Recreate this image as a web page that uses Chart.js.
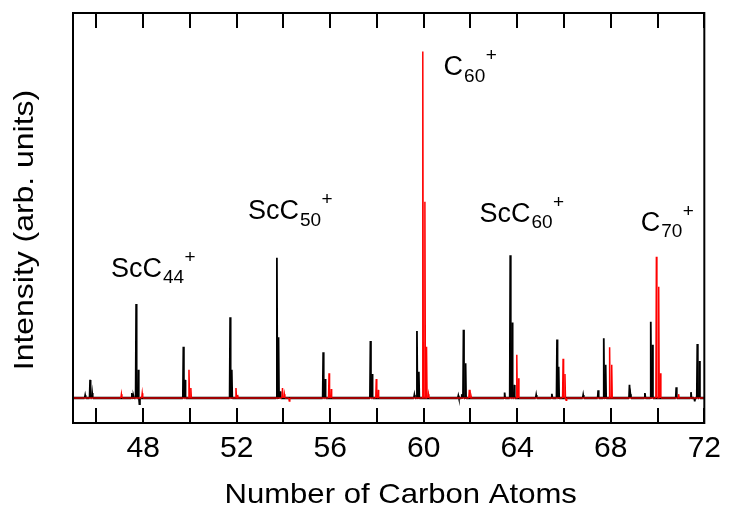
<!DOCTYPE html>
<html>
<head>
<meta charset="utf-8">
<script src="https://cdn.jsdelivr.net/npm/chart.js@4"></script>
<style>
  html, body { margin: 0; padding: 0; background: #fff; }
  #wrap { width: 729px; height: 506px; }
</style>
</head>
<body>
<div id="wrap"><canvas id="c" width="729" height="506"></canvas></div>
<script>
// ---- Data ----
// x: number of carbon atoms (mass / 12), y: intensity (arb. units)
const blackPeakPos = [45.52, 45.73, 45.82, 47.52, 47.59, 47.70, 47.79, 47.84, 49.72, 49.79, 51.72, 51.79,
  53.72, 53.79, 53.86, 55.70, 55.78, 57.72, 57.79, 59.60, 59.71, 59.79, 61.48, 61.63, 61.70, 61.79,
  63.46, 63.70, 63.78, 63.87, 64.81, 65.48, 65.70, 65.77, 66.82, 67.46, 67.70, 67.78, 68.80, 68.84,
  69.46, 69.71, 69.78, 70.80, 71.43, 71.59, 71.70, 71.79];
const blackPeakHeight = [0.7, 4.7, 1.3, 1.3, 0.5, 24.4, 7.3, -1.6, 13.3, 4.7, 21.0, 7.3,
  36.4, 15.8, 1.7, 11.9, 4.9, 14.8, 6.2, 0.8, 17.4, 6.8, 0.6, 1.0, 17.7, 9.0,
  1.4, 37.1, 19.6, 3.4, 0.8, 1.1, 15.2, 8.1, 0.8, 2.0, 15.5, 8.6, 3.4, 1.0,
  1.3, 19.8, 13.8, 2.8, 1.5, -0.9, 14.0, 9.6];

const redPeakPos = [47.07, 47.96, 49.96, 50.04, 51.97, 52.04, 53.96, 54.04, 54.25, 55.95, 56.04,
  57.97, 58.05, 59.96, 60.05, 60.12, 60.20, 61.95, 62.02, 63.98, 64.05, 65.96, 66.04, 66.09,
  67.95, 68.04, 69.95, 70.05, 70.12, 70.90];
const redPeakHeight = [1.0, 1.2, 7.3, 2.6, 2.6, 0.8, 2.6, 1.0, -0.8, 6.4, 2.3,
  4.9, 2.1, 90.0, 51.0, 13.3, 1.0, 2.1, 0.6, 11.2, 5.1, 10.2, 6.2, -0.6,
  13.2, 8.6, 36.7, 28.9, 6.4, 1.0];

const xTickValues = [48, 52, 56, 60, 64, 68, 72];
const xTitle = 'Number of Carbon Atoms';
const yTitle = 'Intensity (arb. units)';

// peak annotations: main formula, subscript, superscript, anchor (data coords)
const annMain = ['ScC', 'ScC', 'C', 'ScC', 'C'];
const annSub = ['44', '50', '60', '60', '70'];
const annSup = ['+', '+', '+', '+', '+'];
const annX = [46.62, 52.48, 60.85, 62.38, 69.28];
const annY = [31.5, 46.4, 83.9, 45.8, 43.5];

const X_MIN = 45, X_MAX = 72, Y_MIN = -6.5, Y_MAX = 100;
const HALF_W = 0.022; // half-width of each stick peak (instrument resolution)

function spectrum(pos, h) {
  const pts = [{x: X_MIN, y: 0}];
  const order = pos.map((p, i) => i).sort((a, b) => pos[a] - pos[b]);
  order.forEach(i => {
    pts.push({x: pos[i] - HALF_W, y: 0});
    pts.push({x: pos[i], y: h[i]});
    pts.push({x: pos[i] + HALF_W, y: 0});
  });
  pts.push({x: X_MAX, y: 0});
  return pts;
}

const FONT = "'Liberation Sans', Arial, Helvetica, sans-serif";

const framePlugin = {
  id: 'frame',
  afterDatasetsDraw(chart) {
    const {ctx, chartArea: a, scales: {x}} = chart;
    ctx.save();
    ctx.strokeStyle = '#000';
    ctx.lineWidth = 2;
    ctx.strokeRect(a.left, a.top, a.right - a.left, a.bottom - a.top);
    ctx.beginPath();
    for (let v = Math.ceil(X_MIN / 2) * 2; v <= X_MAX; v += 2) {
      const px = Math.round(x.getPixelForValue(v));
      ctx.moveTo(px, a.bottom);
      ctx.lineTo(px, a.bottom - 15);
      ctx.moveTo(px, a.top);
      ctx.lineTo(px, a.top + 15);
    }
    ctx.stroke();
    ctx.restore();
  }
};

const titlePlugin = {
  id: 'titles',
  afterDraw(chart) {
    const {ctx, chartArea: a} = chart;
    ctx.save();
    ctx.fillStyle = '#000';
    ctx.textBaseline = 'alphabetic';
    ctx.textAlign = 'center';
    ctx.font = '28px ' + FONT;
    ctx.save();
    ctx.translate((a.left + a.right) / 2 + 12, 503);
    ctx.scale(1.11, 1);
    ctx.fillText(xTitle, 0, 0);
    ctx.restore();
    ctx.save();
    ctx.translate(32.5, (a.top + a.bottom) / 2 + 12);
    ctx.rotate(-Math.PI / 2);
    ctx.scale(1.14, 1);
    ctx.fillText(yTitle, 0, 0);
    ctx.restore();
    ctx.restore();
  }
};

const annPlugin = {
  id: 'ann',
  afterDatasetsDraw(chart) {
    const {ctx, scales: {x, y}} = chart;
    ctx.save();
    ctx.fillStyle = '#000';
    ctx.textBaseline = 'alphabetic';
    ctx.textAlign = 'left';
    annMain.forEach((m, i) => {
      let px = x.getPixelForValue(annX[i]);
      const py = y.getPixelForValue(annY[i]);
      ctx.font = '27px ' + FONT;
      ctx.fillText(m, px, py);
      px += ctx.measureText(m).width;
      ctx.font = '19px ' + FONT;
      ctx.fillText(annSub[i], px + 1, py + 6.6);
      px += ctx.measureText(annSub[i]).width + 1.5;
      ctx.fillText(annSup[i], px, py - 14);
    });
    ctx.restore();
  }
};

const flat = c => c.p0.parsed.y === 0 && c.p1.parsed.y === 0;

new Chart(document.getElementById('c'), {
  type: 'line',
  data: {
    datasets: [
      {
        label: 'red',
        data: spectrum(redPeakPos, redPeakHeight),
        borderColor: '#ff0000',
        borderWidth: 1.5,
        pointRadius: 0,
        tension: 0,
        order: 0,
        segment: { borderColor: c => flat(c) ? '#d40000' : undefined }
      },
      {
        label: 'black',
        data: spectrum(blackPeakPos, blackPeakHeight),
        borderColor: '#000000',
        borderWidth: 1.8,
        pointRadius: 0,
        tension: 0,
        order: 1,
        segment: { borderWidth: c => flat(c) ? 2.6 : undefined }
      }
    ]
  },
  options: {
    responsive: false,
    animation: false,
    devicePixelRatio: 1,
    parsing: false,
    layout: { padding: { top: 13, right: 18, left: 0, bottom: 0 } },
    plugins: { legend: { display: false }, tooltip: { enabled: false } },
    scales: {
      x: {
        type: 'linear',
        min: X_MIN,
        max: X_MAX,
        grid: { display: false, drawTicks: false },
        border: { display: false },
        ticks: {
          stepSize: 2,
          autoSkip: false,
          maxRotation: 0,
          padding: 8,
          color: '#000',
          font: { family: FONT, size: 30 },
          callback: v => xTickValues.includes(v) ? String(v) : ''
        },
        title: { display: false },
        afterFit(s) { s.height = 83; }
      },
      y: {
        min: Y_MIN,
        max: Y_MAX,
        grid: { display: false, drawTicks: false },
        border: { display: false },
        ticks: { display: false },
        title: { display: false },
        afterFit(s) { s.width = 73; }
      }
    }
  },
  plugins: [framePlugin, annPlugin, titlePlugin]
});
</script>
</body>
</html>
